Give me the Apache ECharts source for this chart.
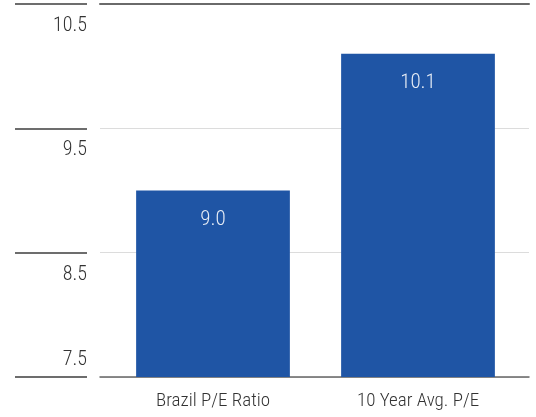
<!DOCTYPE html>
<html>
<head>
<meta charset="utf-8">
<script src="https://cdn.jsdelivr.net/npm/echarts@6/dist/echarts.min.js"></script>
<style>
  html, body { margin: 0; padding: 0; background: #fff; }
  #chart { width: 536px; height: 417px; }
</style>
</head>
<body>
<div id="chart"></div>
<script>
// P/E comparison
const categories = ['Brazil P/E Ratio', '10 Year Avg. P/E'];
const peValues = [9.0, 10.1];
const yMin = 7.5;
const yMax = 10.5;
const yStep = 1;

const FONT = '"Roboto Condensed", "Arial Narrow", "Liberation Sans Narrow", "Roboto", sans-serif';
const TOP = 4;
const BOTTOM = 40;

const chart = echarts.init(document.getElementById('chart'), null, { renderer: 'canvas' });

const valueAxisBase = {
  type: 'value',
  min: yMin,
  max: yMax,
  interval: yStep
};

chart.setOption({
  animation: false,
  backgroundColor: '#ffffff',
  grid: [
    // bars
    { left: 110.5, right: 15.5, top: TOP, bottom: BOTTOM },
    // wide gridlines
    { left: 100, right: 7, top: TOP, bottom: BOTTOM },
    // short tick rules with labels
    { left: 15, width: 72, top: TOP, bottom: BOTTOM }
  ],
  xAxis: [
    {
      gridIndex: 0,
      type: 'category',
      data: categories,
      axisLine: { show: false },
      axisTick: { show: false },
      axisLabel: { color: '#333333', fontFamily: FONT, fontWeight: 300, fontSize: 19, margin: 15 }
    },
    {
      gridIndex: 1,
      type: 'value',
      position: 'bottom',
      axisLine: { show: true, onZero: false, lineStyle: { color: '#666666', width: 1.5 } },
      axisTick: { show: false },
      axisLabel: { show: false },
      splitLine: { show: false }
    },
    {
      gridIndex: 1,
      type: 'value',
      position: 'top',
      axisLine: { show: true, onZero: false, lineStyle: { color: '#6a6a6a', width: 2 } },
      axisTick: { show: false },
      axisLabel: { show: false },
      splitLine: { show: false }
    },
    {
      gridIndex: 2,
      type: 'value',
      show: false
    }
  ],
  yAxis: [
    Object.assign({}, valueAxisBase, {
      gridIndex: 0,
      axisLine: { show: false },
      axisTick: { show: false },
      axisLabel: { show: false },
      splitLine: { show: false }
    }),
    Object.assign({}, valueAxisBase, {
      gridIndex: 1,
      axisLine: { show: false },
      axisTick: { show: false },
      axisLabel: { show: false },
      splitLine: { show: true, lineStyle: { color: '#dcdcdc', width: 1 } }
    }),
    Object.assign({}, valueAxisBase, {
      gridIndex: 2,
      position: 'right',
      axisLine: { show: false },
      axisTick: { show: false },
      splitLine: { show: true, lineStyle: { color: '#3c3c3c', width: 1.5 } },
      axisLabel: {
        inside: true,
        margin: 0,
        color: '#333333',
        fontFamily: FONT,
        fontWeight: 300,
        fontSize: 20,
        align: 'right',
        verticalAlign: 'top',
        verticalAlignMinLabel: 'bottom',
        padding: [12, 0, 7, 0],
        formatter: v => v.toFixed(1)
      }
    })
  ],
  series: [
    {
      type: 'bar',
      xAxisIndex: 0,
      yAxisIndex: 0,
      data: peValues,
      barWidth: '75%',
      itemStyle: { color: '#1f55a5' },
      label: {
        show: true,
        position: 'insideTop',
        distance: 19,
        color: '#e6ecf5',
        fontFamily: FONT,
        fontWeight: 300,
        fontSize: 21,
        formatter: p => p.value.toFixed(1)
      }
    }
  ]
});
</script>
</body>
</html>
